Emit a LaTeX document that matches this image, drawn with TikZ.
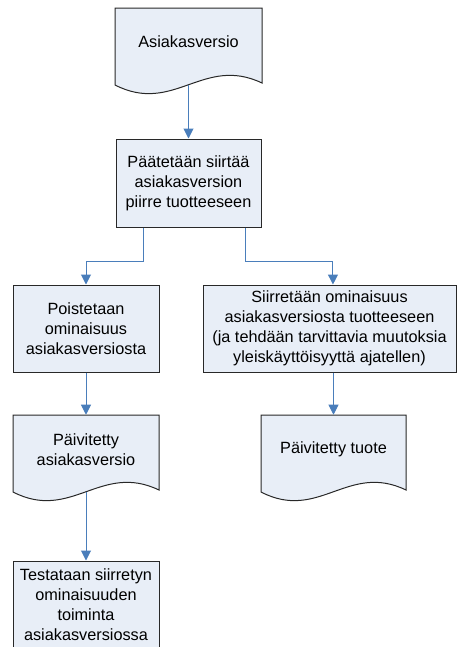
\documentclass[tikz,border=0pt]{standalone}
\usepackage{fontspec}
\setmainfont{Liberation Sans}
\usetikzlibrary{arrows.meta}
\definecolor{boxfill}{RGB}{232,238,247}
\definecolor{boxline}{RGB}{40,40,40}
\definecolor{flow}{RGB}{74,126,187}
\tikzset{
  txt/.style={font=\fontsize{12.2}{15}\selectfont, align=center, inner sep=0pt},
  procbox/.style={txt, draw=boxline, fill=boxfill, line width=0.75pt},
  docarea/.style={inner sep=0pt, draw=none},
  docline/.style={draw=boxline, fill=boxfill, line width=0.75pt},
  arr/.style={draw=flow, line width=0.75pt, -{Triangle[width=7.5pt,length=7.5pt]}}
}
% outline of a document symbol: left x, right x, top y (wavy bottom edge)
\newcommand\docoutline[3]{%
  \draw[docline] (#1,#3) -- (#2,#3) -- (#2,{#3+75})
    .. controls ({#2-0.4*(#2-#1)},{#3+47}) and ({#1+0.4*(#2-#1)},{#3+107}) .. (#1,{#3+77}) -- cycle;}
\begin{document}
\begin{tikzpicture}[x=0.75pt, y=-0.75pt]
\useasboundingbox (0,0) rectangle (457,647);
\clip (0,0) rectangle (457,647);

% documents
\docoutline{115}{262}{8}
\node[docarea, minimum width=110.25pt, minimum height=57.75pt] (d1) at (188.5,46.5) {};
\node[txt] (d1t) at (188.5,42) {Asiakasversio};

\docoutline{13}{159}{415}
\node[docarea, minimum width=109.5pt, minimum height=57.75pt] (d2) at (86,453.5) {};
\node[txt] (d2t) at (86,450) {Päivitetty\\asiakasversio};

\docoutline{261}{406}{415}
\node[docarea, minimum width=108.75pt, minimum height=57.75pt] (d3) at (333.5,453.5) {};
\node[txt] (d3t) at (333.5,449) {Päivitetty tuote};

% process steps
\node[procbox, minimum width=108.75pt, minimum height=66pt] (b2) at (188.5,183)
  {Päätetään siirtää\\asiakasversion\\piirre tuotteeseen};
\node[procbox, minimum width=109.5pt, minimum height=65.25pt] (b3) at (86,328.5)
  {Poistetaan\\ominaisuus\\asiakasversiosta};
\node[procbox, minimum width=189.75pt, minimum height=65.25pt] (b4) at (329.5,328.5)
  {Siirretään ominaisuus\\asiakasversiosta tuotteeseen\\(ja tehdään tarvittavia muutoksia\\yleiskäyttöisyyttä ajatellen)};
\node[procbox, minimum width=109.5pt, minimum height=66pt] (b7) at (86,605)
  {Testataan siirretyn\\ominaisuuden\\toiminta\\asiakasversiossa};

% connectors
\draw[arr] (d1.south) -- (d1.south |- b2.north);
\draw[arr] ([xshift=-33.4pt]b2.south) -- ++(0,34) -| (b3.north);
\draw[arr] ([xshift=43.1pt]b2.south) -- ++(0,34) -| ([xshift=2.6pt]b4.north);
\draw[arr] (b3.south) -- (d2.north);
\draw[arr] (b4.south -| d3.north) -- (d3.north);
\draw[arr] (d2.south) -- (b7.north);
\end{tikzpicture}
\end{document}
